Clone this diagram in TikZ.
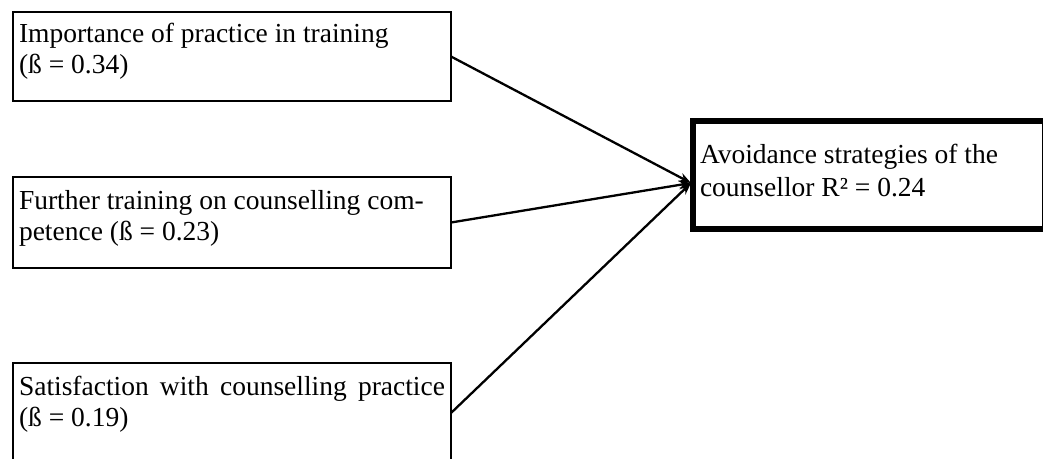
\documentclass[tikz,border=0pt]{standalone}
\usepackage{fontspec}
\setmainfont{Liberation Serif}
\usetikzlibrary{arrows.meta}
\begin{document}
\begin{tikzpicture}[x=1pt,y=-1pt,
  box/.style={draw, line width=2.1pt, anchor=north west, inner xsep=6pt, inner ysep=0pt, outer sep=0pt},
  target/.style={draw, line width=5.5pt, anchor=north west, inner xsep=7pt, inner ysep=0pt, outer sep=0pt},
  link/.style={line width=2.3pt, -{Stealth[length=12pt,width=9pt]}},
  font=\fontsize{27.5}{31}\selectfont]
\useasboundingbox (0,0) rectangle (1043,458);
\clip (0,0) rectangle (1043,458);
\node[box, minimum width=438pt, minimum height=89pt] (b1) at (13,12)
  {\parbox[c][89pt][t]{426pt}{\rule{0pt}{30pt}Importance of practice in training\\(ß = 0.34)}};
\node[box, minimum width=438pt, minimum height=91pt] (b2) at (13,177)
  {\parbox[c][91pt][t]{426pt}{\rule{0pt}{32pt}Further training on counselling com-\\petence (ß = 0.23)}};
\node[box, minimum width=438pt, minimum height=100pt] (b3) at (13,363)
  {\parbox[c][100pt][t]{426pt}{\rule{0pt}{32pt}\hbox to 426pt{Satisfaction\hfill with\hfill counselling\hfill practice}\\(ß = 0.19)}};
\node[target, minimum width=352pt, minimum height=108pt] (av) at (693,121)
  {\parbox[c][108pt][t]{338pt}{\fontsize{27.5}{33}\selectfont\rule{0pt}{42pt}Avoidance strategies of the\\counsellor R² = 0.24}};
\coordinate (hit) at (691,183);
\draw[link] (b1.east) -- (hit);
\draw[link] (b2.east) -- (hit);
\draw[link] (b3.east) -- (hit);
\end{tikzpicture}
\end{document}
